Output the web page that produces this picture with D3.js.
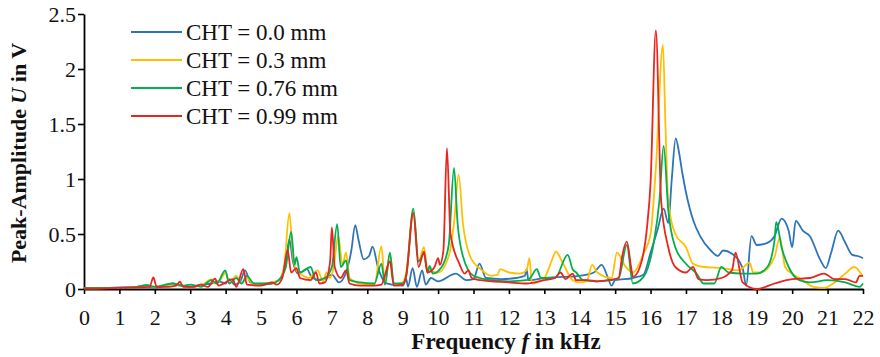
<!DOCTYPE html>
<html>
<head>
<meta charset="utf-8">
<script src="https://cdn.jsdelivr.net/npm/d3@7"></script>
<style>
  html, body { margin: 0; padding: 0; background: #fff; }
  svg { display: block; font-family: "Times New Roman", "Liberation Serif", Times, serif; }
</style>
</head>
<body>
<div id="chart"></div>
<script>
const FONT = '"Times New Roman", "Liberation Serif", Times, serif';

// frequency ticks (kHz) and amplitude ticks (V)
const xTicks = d3.range(0, 23);
const yTicks = [0, 0.5, 1, 1.5, 2, 2.5];

const labels = ['CHT = 0.0 mm', 'CHT = 0.3 mm', 'CHT = 0.76 mm', 'CHT = 0.99 mm'];
const colors = ['#2e75b6', '#ffc000', '#00b050', '#e8251f'];

// [frequency kHz, amplitude V]
const cht00 = [[0,0.01],[0.5,0.01],[1.0,0.015],[1.5,0.02],[1.75,0.035],[1.9,0.015],[2.2,0.02],[2.5,0.05],[2.7,0.03],[3.0,0.02],[3.3,0.04],[3.6,0.05],[3.8,0.07],[4.0,0.05],[4.1,0.09],[4.25,0.04],[4.4,0.06],[4.55,0.17],[4.7,0.06],[5.0,0.04],[5.3,0.05],[5.55,0.1],[5.7,0.25],[5.8,0.45],[5.9,0.25],[6.05,0.14],[6.29,0.18],[6.45,0.1],[6.7,0.08],[6.85,0.1],[7.0,0.13],[7.2,0.06],[7.4,0.15],[7.55,0.35],[7.66,0.58],[7.75,0.45],[7.9,0.27],[8.05,0.3],[8.15,0.385],[8.3,0.2],[8.5,0.06],[8.7,0.04],[9.0,0.03],[9.1,0.09],[9.15,0.02],[9.28,0.19],[9.4,0.02],[9.55,0.17],[9.65,0.04],[9.8,0.1],[10.0,0.07],[10.5,0.14],[10.8,0.08],[11.0,0.09],[11.17,0.23],[11.35,0.1],[11.8,0.09],[12.2,0.1],[12.45,0.12],[12.5,0.18],[12.55,0.08],[13.0,0.1],[13.5,0.11],[14.0,0.12],[14.4,0.15],[14.62,0.22],[14.8,0.1],[14.9,0.03],[15.0,0.08],[15.5,0.1],[15.8,0.13],[16.0,0.33],[16.2,0.54],[16.37,0.73],[16.5,0.6],[16.6,1.0],[16.71,1.37],[16.8,1.25],[16.9,1.05],[17.0,0.88],[17.2,0.63],[17.4,0.48],[17.7,0.35],[17.9,0.3],[18.05,0.35],[18.3,0.32],[18.6,0.19],[18.7,0.03],[18.85,0.48],[19.0,0.4],[19.3,0.42],[19.5,0.48],[19.7,0.64],[19.9,0.53],[20.0,0.38],[20.1,0.62],[20.3,0.53],[20.5,0.48],[20.8,0.26],[20.95,0.19],[21.1,0.33],[21.3,0.53],[21.5,0.42],[21.7,0.31],[21.85,0.3],[22,0.28]];

const cht03 = [[0,0.005],[1.0,0.01],[1.5,0.02],[1.8,0.03],[2.0,0.02],[2.5,0.04],[2.8,0.03],[3.1,0.02],[3.4,0.05],[3.6,0.09],[3.7,0.05],[3.85,0.08],[4.0,0.15],[4.1,0.05],[4.3,0.12],[4.45,0.05],[4.6,0.1],[4.8,0.04],[5.0,0.05],[5.3,0.06],[5.5,0.08],[5.65,0.2],[5.8,0.69],[5.9,0.3],[6.0,0.17],[6.2,0.12],[6.35,0.1],[6.6,0.17],[6.75,0.07],[6.85,0.15],[6.95,0.1],[7.05,0.2],[7.18,0.48],[7.3,0.22],[7.4,0.33],[7.5,0.1],[7.8,0.05],[8.2,0.04],[8.4,0.39],[8.5,0.04],[8.64,0.32],[8.75,0.04],[9.0,0.06],[9.1,0.15],[9.3,0.7],[9.45,0.25],[9.6,0.38],[9.7,0.18],[10.0,0.15],[10.3,0.3],[10.45,0.6],[10.58,1.04],[10.7,0.6],[10.9,0.3],[11.2,0.18],[11.5,0.12],[11.68,0.13],[11.75,0.18],[12.0,0.15],[12.3,0.14],[12.5,0.17],[12.58,0.28],[12.65,0.05],[13.0,0.1],[13.2,0.25],[13.33,0.34],[13.5,0.25],[13.8,0.08],[14.0,0.06],[14.2,0.07],[14.35,0.22],[14.5,0.15],[14.9,0.1],[15.05,0.33],[15.3,0.2],[15.5,0.15],[15.8,0.32],[16.0,0.5],[16.15,1.1],[16.35,2.22],[16.42,1.5],[16.5,0.79],[16.7,0.5],[17.0,0.38],[17.2,0.23],[17.5,0.2],[18.0,0.19],[18.5,0.17],[18.8,0.24],[18.9,0.15],[19.1,0.15],[19.5,0.29],[19.65,0.47],[19.8,0.2],[20.0,0.14],[20.3,0.08],[20.6,0.02],[20.9,0.01],[21.2,0.06],[21.5,0.14],[21.75,0.2],[22,0.11]];

const cht076 = [[0,0.005],[1.0,0.01],[1.5,0.02],[1.8,0.035],[2.0,0.02],[2.5,0.05],[2.8,0.03],[3.0,0.04],[3.3,0.02],[3.6,0.08],[3.75,0.05],[3.99,0.17],[4.1,0.05],[4.3,0.1],[4.45,0.05],[4.6,0.12],[4.8,0.05],[5.0,0.05],[5.3,0.05],[5.5,0.08],[5.7,0.2],[5.85,0.52],[5.95,0.22],[6.0,0.29],[6.1,0.15],[6.4,0.2],[6.55,0.08],[6.8,0.1],[7.0,0.2],[7.15,0.59],[7.25,0.2],[7.4,0.26],[7.5,0.08],[7.8,0.06],[8.2,0.05],[8.4,0.23],[8.5,0.04],[8.64,0.33],[8.75,0.05],[9.0,0.05],[9.1,0.12],[9.3,0.73],[9.45,0.25],[9.6,0.32],[9.7,0.15],[9.76,0.21],[9.85,0.14],[10.1,0.2],[10.3,0.4],[10.45,1.1],[10.55,0.6],[10.7,0.3],[11.0,0.12],[11.5,0.08],[12.0,0.07],[12.5,0.08],[12.6,0.1],[12.79,0.18],[12.9,0.1],[13.3,0.1],[13.66,0.31],[13.8,0.18],[13.9,0.15],[14.1,0.08],[14.5,0.07],[14.9,0.08],[15.1,0.1],[15.33,0.4],[15.5,0.05],[15.8,0.11],[16.1,0.44],[16.25,0.8],[16.37,1.3],[16.5,0.72],[16.7,0.38],[17.0,0.23],[17.3,0.14],[17.5,0.05],[17.8,0.05],[18.0,0.2],[18.2,0.15],[18.6,0.14],[19.0,0.14],[19.3,0.2],[19.5,0.44],[19.55,0.61],[19.7,0.38],[19.9,0.2],[20.2,0.08],[20.5,0.06],[21.0,0.08],[21.5,0.06],[21.9,0.02],[22,0.05]];

const cht099 = [[0,0.005],[1.0,0.01],[1.5,0.015],[1.85,0.02],[1.96,0.105],[2.05,0.02],[2.4,0.02],[2.6,0.03],[2.71,0.066],[2.8,0.02],[3.1,0.02],[3.3,0.04],[3.5,0.02],[3.7,0.094],[3.8,0.03],[4.0,0.06],[4.2,0.09],[4.3,0.02],[4.5,0.18],[4.6,0.04],[5.0,0.03],[5.3,0.06],[5.45,0.04],[5.6,0.1],[5.75,0.355],[5.85,0.15],[6.0,0.19],[6.1,0.1],[6.4,0.08],[6.55,0.15],[6.65,0.05],[6.8,0.06],[6.95,0.25],[7.0,0.56],[7.08,0.2],[7.25,0.1],[7.4,0.17],[7.5,0.05],[7.8,0.03],[8.2,0.03],[8.4,0.04],[8.64,0.25],[8.75,0.03],[9.0,0.04],[9.1,0.12],[9.3,0.69],[9.45,0.2],[9.6,0.34],[9.7,0.15],[9.9,0.2],[10.0,0.28],[10.05,0.22],[10.15,0.35],[10.25,1.28],[10.35,0.5],[10.6,0.23],[10.75,0.14],[10.85,0.17],[10.95,0.1],[11.2,0.08],[12.0,0.06],[12.5,0.05],[13.0,0.08],[13.3,0.1],[13.46,0.15],[13.6,0.09],[13.8,0.14],[13.9,0.08],[14.2,0.08],[14.5,0.07],[14.8,0.08],[15.1,0.1],[15.2,0.3],[15.33,0.43],[15.45,0.2],[15.5,0.11],[15.7,0.2],[15.9,0.56],[16.0,0.96],[16.15,2.35],[16.3,0.8],[16.5,0.38],[16.7,0.2],[17.0,0.15],[17.2,0.2],[17.35,0.09],[17.6,0.08],[18.0,0.1],[18.3,0.17],[18.4,0.33],[18.6,0.06],[19.0,0.0],[19.5,0.05],[20.0,0.09],[20.5,0.1],[20.9,0.14],[21.2,0.09],[21.5,0.09],[21.8,0.06],[21.9,0.12],[22,0.12]];

const series = [cht00, cht03, cht076, cht099];

const width = 880, height = 357;
const margin = { top: 14, right: 17, bottom: 68, left: 84 };

const svg = d3.select('#chart')
  .append('svg')
  .attr('width', width)
  .attr('height', height);

const x = d3.scaleLinear().domain([0, 22]).range([margin.left, width - margin.right]);
const y = d3.scaleLinear().domain([0, 2.5]).range([height - margin.bottom, margin.top]);

// Axes
const xAxis = svg.append('g')
  .attr('transform', `translate(0,${y(0)})`)
  .call(d3.axisBottom(x).tickValues(xTicks).tickSize(5).tickSizeOuter(0).tickPadding(15));
const yAxis = svg.append('g')
  .attr('transform', `translate(${x(0)},0)`)
  .call(d3.axisLeft(y).tickValues(yTicks).tickSize(6).tickSizeOuter(0).tickPadding(2)
    .tickFormat(d => String(d)));

[xAxis, yAxis].forEach(a => {
  a.attr('font-family', FONT).attr('font-size', 22);
  a.select('.domain').attr('stroke', '#000').attr('stroke-width', 1.8);
  a.selectAll('.tick line').attr('stroke', '#000').attr('stroke-width', 1.6);
  a.selectAll('.tick text').attr('fill', '#111');
});

// Lines
const line = d3.line()
  .x(d => x(d[0]))
  .y(d => y(d[1]))
  .curve(d3.curveMonotoneX);

svg.append('g')
  .selectAll('path')
  .data(series)
  .join('path')
  .attr('d', line)
  .attr('fill', 'none')
  .attr('stroke', (d, i) => colors[i])
  .attr('stroke-width', 1.8)
  .attr('stroke-linejoin', 'round');

// Legend
const legend = svg.append('g')
  .selectAll('g')
  .data(labels)
  .join('g')
  .attr('transform', (d, i) => `translate(131,${32 + i * 28})`);

legend.append('line')
  .attr('x1', 0).attr('x2', 51)
  .attr('stroke', (d, i) => colors[i])
  .attr('stroke-width', 2);

legend.append('text')
  .attr('x', 55)
  .attr('dy', '0.35em')
  .attr('fill', '#111')
  .style('font-family', FONT)
  .style('font-size', '23px')
  .text(d => d);

// Axis titles
const xTitle = svg.append('text')
  .attr('x', 506)
  .attr('y', 349)
  .attr('text-anchor', 'middle')
  .attr('fill', '#111')
  .style('font-family', FONT)
  .style('font-size', '23px')
  .style('font-weight', 'bold');
xTitle.append('tspan').text('Frequency ');
xTitle.append('tspan').style('font-style', 'italic').text('f');
xTitle.append('tspan').text(' in kHz');

const yTitle = svg.append('text')
  .attr('transform', 'translate(26,153) rotate(-90)')
  .attr('text-anchor', 'middle')
  .attr('fill', '#111')
  .style('font-family', FONT)
  .style('font-size', '22px')
  .style('font-weight', 'bold');
yTitle.append('tspan').text('Peak-Amplitude ');
yTitle.append('tspan').style('font-style', 'italic').text('U');
yTitle.append('tspan').text(' in V');
</script>
</body>
</html>
